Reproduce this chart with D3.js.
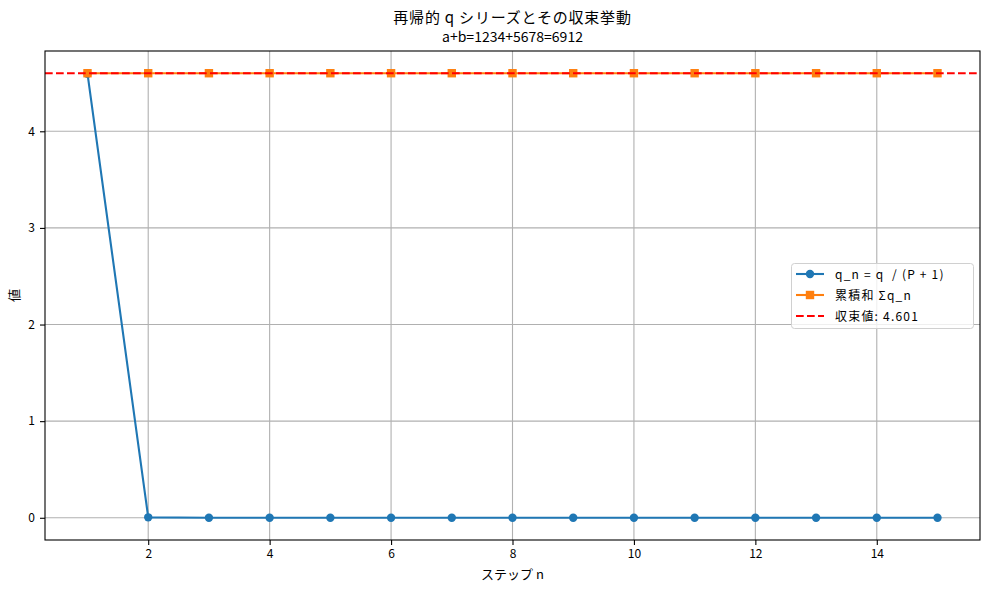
<!DOCTYPE html>
<html><head><meta charset="utf-8">
<script src="https://cdn.jsdelivr.net/npm/d3@7"></script>
<style>
body{margin:0;background:#fff;}
text{font-family:"Noto Sans CJK JP","DejaVu Sans",sans-serif;white-space:pre;}
</style></head>
<body>
<svg id="chart" width="989" height="590"></svg>
<script>
const steps = [1,2,3,4,5,6,7,8,9,10,11,12,13,14,15];
const qValues = [4.5962, 0.0046, 0.0002, 0.00001, 0.0000005, 0, 0, 0, 0, 0, 0, 0, 0, 0, 0];
const cumValues = [4.601, 4.601, 4.601, 4.601, 4.601, 4.601, 4.601, 4.601, 4.601, 4.601, 4.601, 4.601, 4.601, 4.601, 4.601];
const limitValue = 4.601;
const xTicks = [2,4,6,8,10,12,14];
const yTicks = [0,1,2,3,4];
const titleLines = ["再帰的 q シリーズとその収束挙動", "a+b=1234+5678=6912"];
const legendLabels = ["q_n = q  / (P + 1)", "累積和 Σq_n", "収束値: 4.601"];

const svg = d3.select("#chart");
const L = 45, R = 980, T = 51, B = 540;
const x = d3.scaleLinear().domain([0.3, 15.7]).range([L, R]);
const yMin = -0.23, yMax = 4.831;
const y = d3.scaleLinear().domain([yMin, yMax]).range([B, T]);

const blue = "#1f77b4", orange = "#ff7f0e", red = "#ff0000";

// grid
const g = svg.append("g");
g.selectAll(".gx").data(xTicks).enter().append("line")
  .attr("x1", d => x(d)).attr("x2", d => x(d)).attr("y1", T).attr("y2", B)
  .attr("stroke", "#b0b0b0").attr("stroke-width", 1.1);
g.selectAll(".gy").data(yTicks).enter().append("line")
  .attr("x1", L).attr("x2", R).attr("y1", d => y(d)).attr("y2", d => y(d))
  .attr("stroke", "#b0b0b0").attr("stroke-width", 1.1);

// axes
const xAxis = d3.axisBottom(x).tickValues(xTicks).tickFormat(d3.format("d")).tickSize(5).tickPadding(4);
const yAxis = d3.axisLeft(y).tickValues(yTicks).tickFormat(d3.format("d")).tickSize(5).tickPadding(5);
const gx = svg.append("g").attr("transform", `translate(0,${B})`).call(xAxis);
const gy = svg.append("g").attr("transform", `translate(${L},0)`).call(yAxis);
[gx, gy].forEach(a => {
  a.select(".domain").remove();
  a.selectAll("line").attr("stroke", "#000").attr("stroke-width", 1.1);
  a.selectAll("text").attr("font-size", 12).attr("fill", "#000");
});

const clip = svg.append("clipPath").attr("id", "clip").append("rect")
  .attr("x", L).attr("y", T).attr("width", R - L).attr("height", B - T);
const plot = svg.append("g").attr("clip-path", "url(#clip)");

// q series
const line = d3.line().x((d, i) => x(steps[i])).y(d => y(d));
plot.append("path").datum(qValues).attr("d", line).attr("fill", "none")
  .attr("stroke", blue).attr("stroke-width", 2.1);
plot.selectAll(".qc").data(qValues).enter().append("circle")
  .attr("cx", (d, i) => x(steps[i])).attr("cy", d => y(d)).attr("r", 4.2).attr("fill", blue);

// cumulative
plot.append("path").datum(cumValues).attr("d", line).attr("fill", "none")
  .attr("stroke", orange).attr("stroke-width", 2.1);
const s = 8.4;
plot.selectAll(".cs").data(cumValues).enter().append("rect")
  .attr("x", (d, i) => x(steps[i]) - s / 2).attr("y", d => y(d) - s / 2)
  .attr("width", s).attr("height", s).attr("fill", orange);

// limit
plot.append("line").attr("x1", L).attr("x2", R).attr("y1", y(limitValue)).attr("y2", y(limitValue))
  .attr("stroke", red).attr("stroke-width", 2.1).attr("stroke-dasharray", "7.7,3.3");

// frame
svg.append("rect").attr("x", L).attr("y", T).attr("width", R - L).attr("height", B - T)
  .attr("fill", "none").attr("stroke", "#000").attr("stroke-width", 1.1);

// titles
svg.append("text").attr("x", (L + R) / 2).attr("y", 23).attr("text-anchor", "middle")
  .attr("font-size", 15).attr("letter-spacing", 0.8).text(titleLines[0]);
svg.append("text").attr("x", (L + R) / 2).attr("y", 42).attr("text-anchor", "middle")
  .attr("font-size", 14).text(titleLines[1]);
svg.append("text").attr("x", (L + R) / 2).attr("y", 579).attr("text-anchor", "middle")
  .attr("font-size", 13).text("ステップ n");
svg.append("text").attr("transform", `translate(19,${(T + B) / 2}) rotate(-90)`)
  .attr("text-anchor", "middle").attr("font-size", 13).text("値");

// legend
const lg = svg.append("g");
lg.append("rect").attr("x", 791.5).attr("y", 263.5).attr("width", 182).attr("height", 65).attr("rx", 3)
  .attr("fill", "#fff").attr("fill-opacity", 0.8).attr("stroke", "#d0d0d0").attr("stroke-width", 1);
const rows = [274, 295, 316];
const colors = [blue, orange, red];
rows.forEach((ry, i) => {
  const ln = lg.append("line").attr("x1", 796).attr("x2", 824).attr("y1", ry).attr("y2", ry)
    .attr("stroke", colors[i]).attr("stroke-width", 2.1);
  if (i === 2) ln.attr("stroke-dasharray", "7.7,3.3");
  if (i === 0) lg.append("circle").attr("cx", 810).attr("cy", ry).attr("r", 4.2).attr("fill", blue);
  if (i === 1) lg.append("rect").attr("x", 810 - s / 2).attr("y", ry - s / 2).attr("width", s).attr("height", s).attr("fill", orange);
  lg.append("text").attr("x", 835).attr("y", ry + 4.5).attr("font-size", 12).attr("letter-spacing", 1.2).text(legendLabels[i]);
});
</script>
</body></html>
